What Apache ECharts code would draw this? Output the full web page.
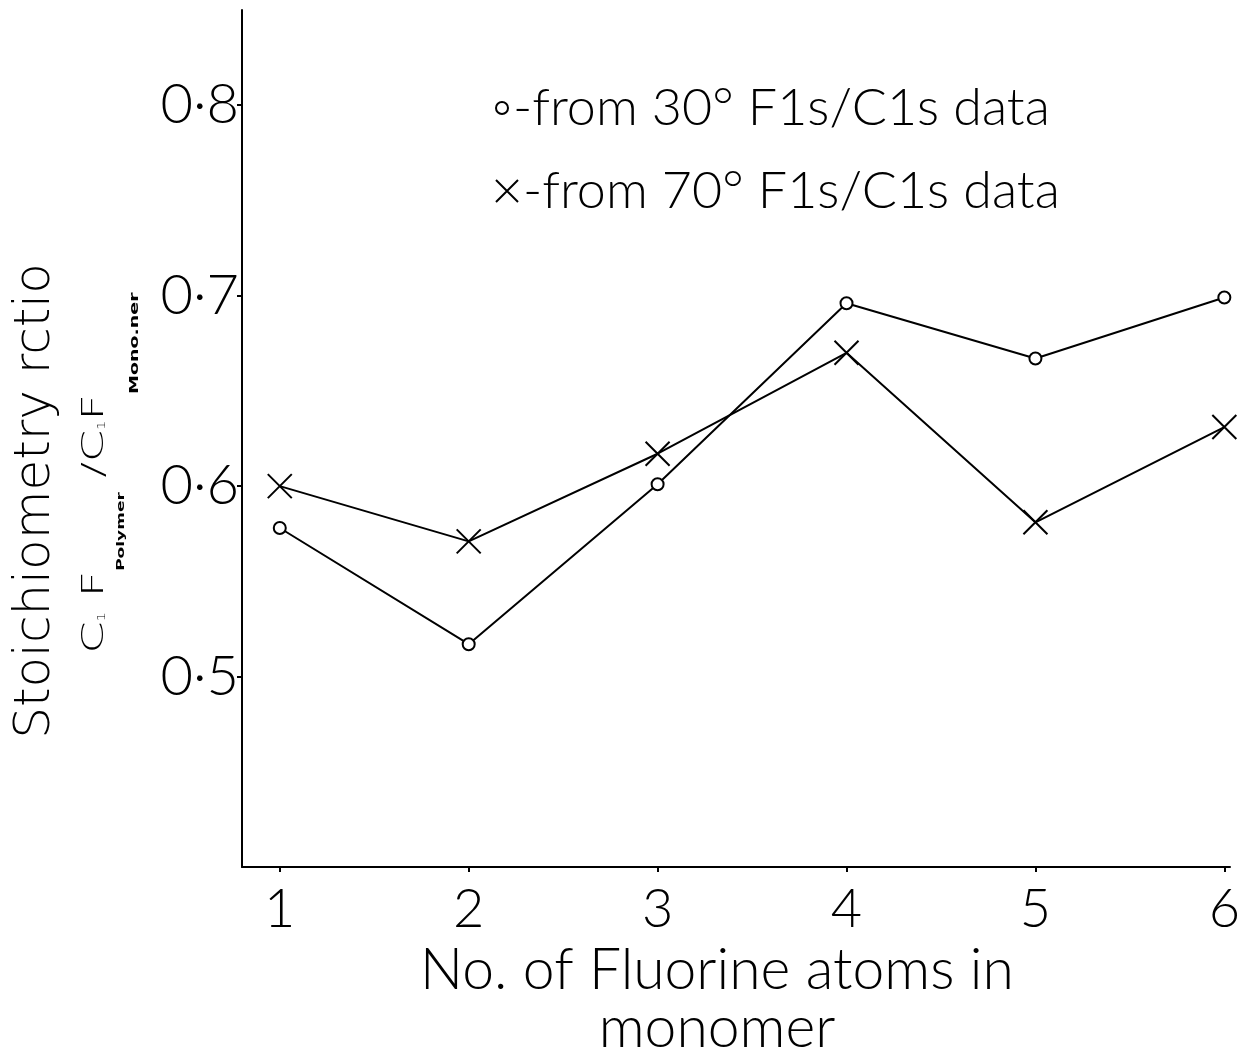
<!DOCTYPE html>
<html>
<head>
<meta charset="utf-8">
<script src="https://cdn.jsdelivr.net/npm/echarts@6/dist/echarts.min.js"></script>
<style>
html,body{margin:0;padding:0;background:#fff;}
#c{width:1251px;height:1056px;}
</style>
</head>
<body>
<div id="c"></div>
<script>
const fluorineAtoms = [1, 2, 3, 4, 5, 6];
const ratio30 = [0.578, 0.517, 0.601, 0.696, 0.667, 0.699];
const ratio70 = [0.600, 0.571, 0.617, 0.670, 0.581, 0.631];
const xTickValues = [1, 2, 3, 4, 5, 6];
const yTickValues = [0.5, 0.6, 0.7, 0.8];
const seriesNames = ['-from 30\u00B0 F1s/C1s data', '-from 70\u00B0 F1s/C1s data'];
const xAxisTitle = 'No. of Fluorine atoms in\nmonomer';
const yTitleLine1 = 'Stoichiometry rctio';

const FONT = 'Lato';
const TFONT = 'DejaVu Sans';
const crossPath = 'path://M0,0L20,20M20,0L0,20';

const chart = echarts.init(document.getElementById('c'), null, {renderer: 'canvas'});
const toPairs = (ys) => fluorineAtoms.map((x, i) => [x, ys[i]]);

chart.setOption({
  backgroundColor: '#fff',
  animation: false,
  grid: {left: 242, right: 21, top: 10, bottom: 189, containLabel: false, outerBoundsMode: 'none'},
  legend: [
    {
      data: [{name: seriesNames[0], icon: 'emptyCircle'}],
      left: 490, top: 77, itemWidth: 12, itemHeight: 12, itemGap: 0,
      textStyle: {fontFamily: FONT, fontWeight: 300, fontSize: 52, color: '#000'},
      itemStyle: {color: '#000', borderColor: '#000', borderWidth: 2}
    },
    {
      data: [{name: seriesNames[1], icon: crossPath}],
      left: 490, top: 160, itemWidth: 22, itemHeight: 22, itemGap: 0,
      textStyle: {fontFamily: FONT, fontWeight: 300, fontSize: 52, color: '#000'},
      itemStyle: {color: '#000', borderColor: '#000', borderWidth: 2}
    }
  ],
  xAxis: {
    type: 'value', min: 0.8, max: 6.03,
    splitLine: {show: false},
    axisLine: {show: true, lineStyle: {color: '#000', width: 2}},
    axisTick: {show: true, length: 5, lineStyle: {color: '#000', width: 2}, customValues: xTickValues},
    axisLabel: {customValues: xTickValues, margin: 16, fontFamily: FONT, fontWeight: 300, fontSize: 54, color: '#000'},
    name: xAxisTitle, nameLocation: 'middle', nameGap: 72,
    nameTextStyle: {fontFamily: FONT, fontWeight: 300, fontSize: 57, color: '#000', lineHeight: 58, padding: [0, 38, 0, 0]}
  },
  yAxis: {
    type: 'value', min: 0.4, max: 0.85,
    splitLine: {show: false},
    axisLine: {show: true, lineStyle: {color: '#000', width: 2}},
    axisTick: {show: true, length: 5, lineStyle: {color: '#000', width: 2}, customValues: yTickValues},
    axisLabel: {customValues: yTickValues, margin: 3, fontFamily: FONT, fontWeight: 300, fontSize: 56, color: '#000',
      formatter: (v) => v.toFixed(1).replace('.', '\u00B7')}
  },
  graphic: [
    {
      type: 'text', x: 36, y: 501, rotation: Math.PI / 2,
      style: {text: yTitleLine1, font: '200 50px "' + TFONT + '"', fill: '#000', align: 'center', verticalAlign: 'middle'}
    },
    {
      type: 'text', x: 111, y: 473, rotation: Math.PI / 2, scaleY: 0.64,
      style: {
        text: '{b|C}{s|1}{b| F}{p|Polymer}{b| /C}{s|1}{b|F}{m|Mono.ner}',
        align: 'center', verticalAlign: 'middle', fill: '#000',
        rich: {
          b: {fontFamily: TFONT, fontWeight: 300, fontSize: 46, lineHeight: 46, verticalAlign: 'top'},
          s: {fontFamily: TFONT, fontWeight: 300, fontSize: 15, verticalAlign: 'top', padding: [27, 0, 0, 0]},
          p: {fontFamily: TFONT, fontWeight: 'bold', fontSize: 17, verticalAlign: 'top', padding: [54, 0, 0, 0]},
          m: {fontFamily: TFONT, fontWeight: 'bold', fontSize: 19, verticalAlign: 'top', padding: [75, 0, 0, 0]}
        }
      }
    }
  ],
  series: [
    {
      name: seriesNames[0], type: 'line', data: toPairs(ratio30),
      symbol: 'emptyCircle', symbolSize: 12,
      lineStyle: {color: '#000', width: 2},
      itemStyle: {color: '#000', borderColor: '#000', borderWidth: 2},
      z: 3
    },
    {
      name: seriesNames[1], type: 'line', data: toPairs(ratio70),
      symbol: crossPath, symbolSize: 24,
      lineStyle: {color: '#000', width: 2},
      itemStyle: {color: '#000', borderColor: '#000', borderWidth: 2},
      z: 2
    }
  ]
});
</script>
</body>
</html>
